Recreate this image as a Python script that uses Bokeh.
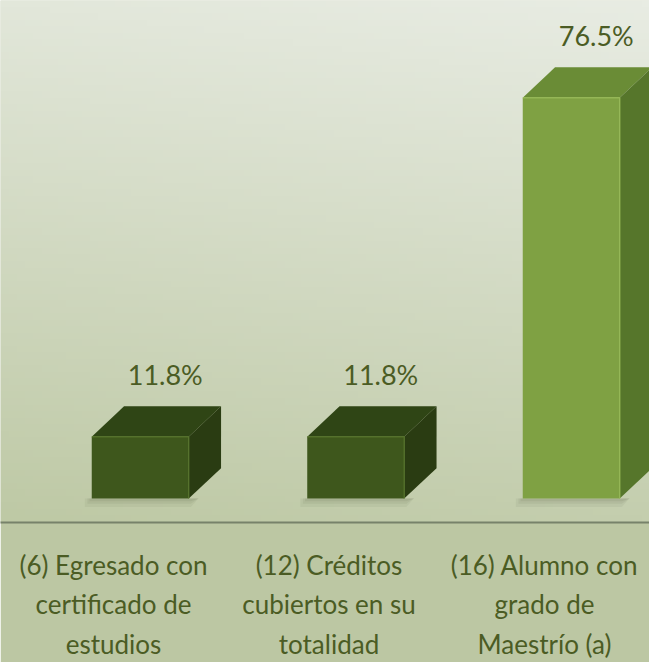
import numpy as np
from bokeh.plotting import figure
from bokeh.models import Range1d, FixedTicker
from bokeh.embed import file_html
from bokeh.resources import INLINE
from bokeh.core.properties import value

# ---- data ----
categories = ["(6) Egresado con\ncertificado de\nestudios",
              "(12) Créditos\ncubiertos en su\ntotalidad",
              "(16) Alumno con\ngrado de\nMaestrío (a)"]
values = [11.8, 11.8, 76.5]
value_labels = ["11.8%", "11.8%", "76.5%"]
front_colors = ["#3e571c", "#3e571c", "#7fa143"]
top_colors = ["#2f4515", "#2f4515", "#6a8c36"]
side_colors = ["#2a3c12", "#2a3c12", "#56762b"]
edge_colors = ["#58762c", "#58762c", "#9abd58"]

FONT = "Lato"
TEXT_COLOR = "#4b5c24"

# ---- geometry (style) ----
BAR_OFF = 0.124
BAR_W = 0.45
DX = 0.15
DY = 5.8

W, H = 649, 662
X0, X1 = -0.5244, 2.4872
Y0, Y1 = -4.57, 95.05
p = figure(width=W, height=H, output_backend="svg", toolbar_location=None,
           x_range=Range1d(X0, X1), y_range=Range1d(Y0, Y1),
           min_border_left=0, min_border_right=0, min_border_top=0,
           min_border_bottom=139)
p.background_fill_color = "#d5dcc8"
p.border_fill_color = "#bcc7a3"
p.outline_line_color = None
p.grid.visible = False
p.yaxis.visible = False

# background gradient (decorative)
def rgb(h):
    h = h.lstrip("#")
    return np.array([int(h[i:i + 2], 16) for i in (0, 2, 4)], dtype=float)

tl, tr, bl, br = rgb("#e2e7da"), rgb("#e8ece3"), rgb("#bec9a5"), rgb("#c4ceae")
GH, GW = 80, 80
t = np.linspace(0, 1, GH)[:, None, None]
s = np.linspace(0, 1, GW)[None, :, None]
col = (1 - t) * ((1 - s) * bl + s * br) + t * ((1 - s) * tl + s * tr)
img = np.empty((GH, GW), dtype=np.uint32)
view = img.view(dtype=np.uint8).reshape((GH, GW, 4))
view[:, :, :3] = col.astype(np.uint8)
view[:, :, 3] = 255
p.image_rgba(image=[img], x=X0, y=Y0, dw=X1 - X0, dh=Y1 - Y0)

for i, v in enumerate(values):
    x0 = i + BAR_OFF - BAR_W / 2
    x1 = i + BAR_OFF + BAR_W / 2
    # soft shadow
    for k, a in ((1.6, 0.08), (1.0, 0.10), (0.5, 0.12)):
        p.patch([x0 - 0.02 * k, x1 + 0.01, x1 + DX * 0.3, x0 - 0.02 * k],
                [-k, -k, 0, 0], fill_color="#5f6a4c", fill_alpha=a,
                line_color=None)
    # front
    p.quad(left=[x0], right=[x1], bottom=[0], top=[v],
           fill_color=front_colors[i], line_color=None)
    # top face
    p.patch([x0, x1, x1 + DX, x0 + DX], [v, v, v + DY, v + DY],
            fill_color=top_colors[i], line_color=None)
    # side face
    p.patch([x1, x1 + DX, x1 + DX, x1], [0, DY, v + DY, v],
            fill_color=side_colors[i], line_color=None)
    # highlight edges
    p.line([x0, x1, x1], [v, v, 0], line_color=edge_colors[i],
           line_width=1.5, line_alpha=0.8)

p.text(x=[i + 0.24 for i in range(len(values))],
       y=[v + DY for v in values], text=value_labels,
       y_offset=-32, text_align="center", text_baseline="middle",
       text_font=value(FONT), text_font_size="27px", text_color=TEXT_COLOR)

ax = p.xaxis[0]
ax.ticker = FixedTicker(ticks=[0, 1, 2])
ax.major_label_overrides = {i: c for i, c in enumerate(categories)}
ax.major_label_text_font = FONT
ax.major_label_text_font_size = "26px"
ax.major_label_text_color = TEXT_COLOR
ax.major_label_text_line_height = 1.24
ax.major_label_standoff = 26
ax.major_tick_out = 0
ax.major_tick_in = 0
ax.minor_tick_out = 0
ax.minor_tick_in = 0
ax.axis_line_color = "#77826a"
ax.axis_line_width = 2

open("out.html", "w").write(file_html(p, INLINE))
